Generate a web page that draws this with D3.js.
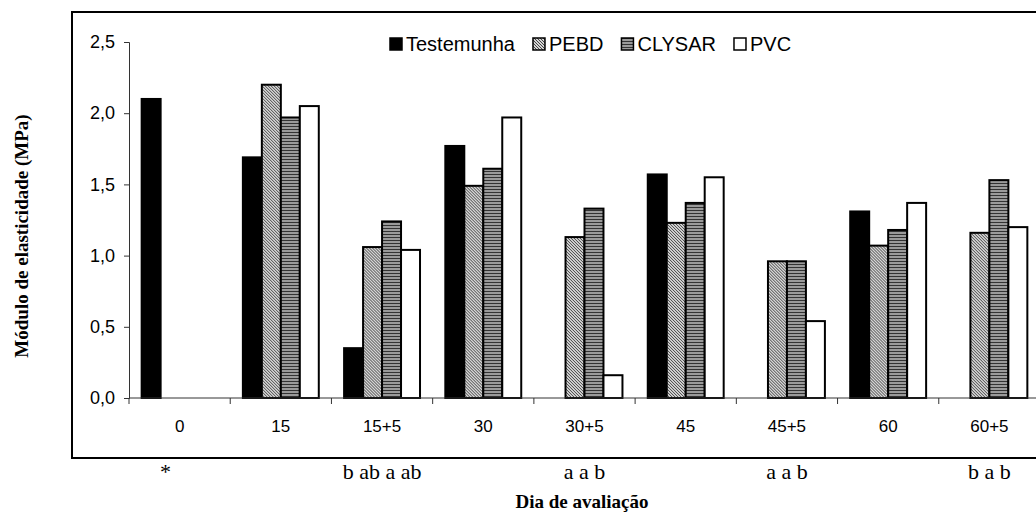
<!doctype html>
<html>
  <head>
    <meta charset="utf-8">
    <script src="https://cdn.jsdelivr.net/npm/d3@7/dist/d3.min.js"></script>
    <style>
      body { margin: 0; background: #fff; }
      svg { display: block; }
    </style>
  </head>
  <body>
    <div id="viz">
      <svg width="1036" height="531"></svg>
    </div>
    <script>
      // data (MPa); null = no bar
      var dias = ["0", "15", "15+5", "30", "30+5", "45", "45+5", "60", "60+5"];
      var series = ["Testemunha", "PEBD", "CLYSAR", "PVC"];
      var testemunha = [2.10, 1.69, 0.35, 1.77, null, 1.57, null, 1.31, null];
      var pebd       = [null, 2.20, 1.06, 1.49, 1.13, 1.23, 0.96, 1.07, 1.16];
      var clysar     = [null, 1.97, 1.24, 1.61, 1.33, 1.37, 0.96, 1.18, 1.53];
      var pvc        = [null, 2.05, 1.04, 1.97, 0.16, 1.55, 0.54, 1.37, 1.20];
      var letras     = ["*", "", "b ab a ab", "", "a a b", "", "a a b", "", "b a b"];
      var yTicks = [0, 0.5, 1, 1.5, 2, 2.5];

      var valores = [testemunha, pebd, clysar, pvc];
      var svg = d3.select("svg");

      var defs = svg.append("defs");
      var p1 = defs.append("pattern").attr("id", "pebd")
        .attr("width", 3).attr("height", 3).attr("patternUnits", "userSpaceOnUse");
      p1.append("rect").attr("width", 3).attr("height", 3).attr("fill", "#d4d4d4");
      p1.append("path").attr("d", "M0,0L3,3M-1,2L1,4M2,-1L4,1")
        .attr("stroke", "#333").attr("stroke-width", 0.9);
      var p2 = defs.append("pattern").attr("id", "clysar")
        .attr("width", 4).attr("height", 3).attr("patternUnits", "userSpaceOnUse");
      p2.append("rect").attr("width", 4).attr("height", 3).attr("fill", "#9a9a9a");
      p2.append("rect").attr("width", 4).attr("height", 1).attr("fill", "#333");

      var fills = {"Testemunha": "#000", "PEBD": "url(#pebd)", "CLYSAR": "url(#clysar)", "PVC": "#fff"};

      // outer frame (runs off the right edge like the original)
      svg.append("rect")
        .attr("x", 72).attr("y", 12).attr("width", 990).attr("height", 446)
        .attr("fill", "none").attr("stroke", "#000").attr("stroke-width", 2);

      var x0 = d3.scaleBand().domain(dias).range([129, 1040]);
      var bw = x0.bandwidth();
      var x1 = d3.scaleBand().domain(series).range([bw * 0.125, bw * 0.875]);
      var y = d3.scaleLinear().domain([0, 2.5]).range([398, 42]);

      // y axis
      var yAxis = svg.append("g")
        .attr("transform", "translate(129,0)")
        .call(d3.axisLeft(y).tickValues(yTicks).tickSize(5).tickPadding(9)
          .tickFormat(d => d3.format(".1f")(d).replace(".", ",")));
      yAxis.selectAll("text").attr("font-family", "Liberation Sans, Arial").attr("font-size", 18).attr("fill", "#000");
      yAxis.selectAll("line, path").attr("stroke", "#333");

      // bars
      var groups = svg.append("g").selectAll("g")
        .data(dias).enter().append("g")
        .attr("transform", d => "translate(" + x0(d) + ",0)");
      groups.selectAll("rect")
        .data((d, i) => series.map((s, j) => ({s: s, v: valores[j][i]})).filter(e => e.v !== null))
        .enter().append("rect")
          .attr("x", d => x1(d.s))
          .attr("width", x1.bandwidth())
          .attr("y", d => y(d.v))
          .attr("height", d => y(0) - y(d.v))
          .attr("fill", d => fills[d.s])
          .attr("stroke", "#000")
          .attr("stroke-width", 2);

      // x axis
      var xAxis = svg.append("g").attr("transform", "translate(0,398)");
      xAxis.append("line").attr("x1", 129).attr("x2", 1040).attr("stroke", "#333");
      xAxis.selectAll("line.tk")
        .data(dias.map(d => x0(d)).concat([1040])).enter().append("line")
        .attr("class", "tk")
        .attr("x1", d => d).attr("x2", d => d).attr("y1", 0).attr("y2", 6)
        .attr("stroke", "#333");
      xAxis.selectAll("text")
        .data(dias).enter().append("text")
        .attr("x", d => x0(d) + bw / 2).attr("y", 34)
        .attr("text-anchor", "middle")
        .attr("font-family", "Liberation Sans, Arial").attr("font-size", 17)
        .text(d => d);

      // significance letters under the frame
      svg.append("g").selectAll("text")
        .data(dias).enter().append("text")
        .attr("x", (d, i) => x0(d) + bw / 2 - (letras[i] === "*" ? 14 : 0))
        .attr("y", 479)
        .attr("text-anchor", "middle")
        .attr("font-family", "Liberation Serif, Times New Roman").attr("font-size", 22)
        .text((d, i) => letras[i]);

      // legend
      var legend = svg.append("g").attr("transform", "translate(390,44)");
      var lx = 0;
      series.forEach(function(s) {
        legend.append("rect")
          .attr("x", lx).attr("y", -6).attr("width", 12).attr("height", 12)
          .attr("fill", fills[s]).attr("stroke", "#000").attr("stroke-width", 1.5);
        var t = legend.append("text")
          .attr("x", lx + 16).attr("y", 7)
          .attr("font-family", "Liberation Sans, Arial").attr("font-size", 20)
          .text(s);
        lx += 16 + t.node().getComputedTextLength() + 18;
      });

      // axis titles
      svg.append("text")
        .attr("transform", "translate(28,236) rotate(-90)")
        .attr("text-anchor", "middle")
        .attr("font-family", "Liberation Serif, Times New Roman").attr("font-weight", "bold").attr("font-size", 19)
        .text("Módulo de elasticidade (MPa)");
      svg.append("text")
        .attr("x", 582).attr("y", 508)
        .attr("text-anchor", "middle")
        .attr("font-family", "Liberation Serif, Times New Roman").attr("font-weight", "bold").attr("font-size", 19)
        .text("Dia de avaliação");
    </script>
  </body>
</html>
